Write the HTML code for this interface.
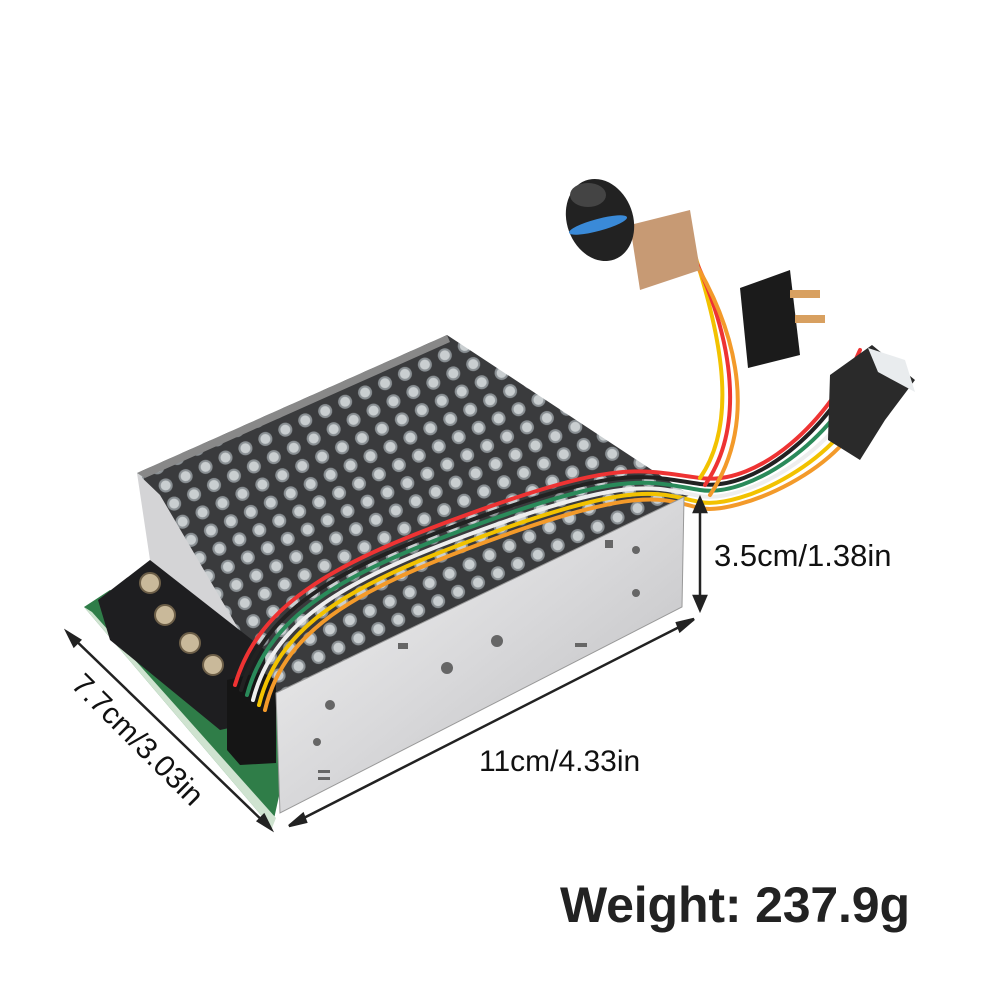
<!DOCTYPE html>
<html><head><meta charset="utf-8"><style>
html,body{margin:0;padding:0;background:#fff}
svg{display:block}
text{font-family:"Liberation Sans",Arial,sans-serif}
</style></head><body>
<svg width="1000" height="1000" viewBox="0 0 1000 1000" xmlns="http://www.w3.org/2000/svg">
<defs>
<pattern id="holes" width="22" height="20" patternUnits="userSpaceOnUse" patternTransform="rotate(-25)">
<rect width="22" height="20" fill="#3a3b3d"/>
<circle cx="11" cy="10" r="7" fill="#8a9094"/>
<circle cx="11" cy="10" r="5" fill="#c9ced0"/>
</pattern>
<linearGradient id="panel" x1="0" y1="0" x2="1" y2="1">
<stop offset="0" stop-color="#f4f4f4"/><stop offset="0.5" stop-color="#d8d8da"/><stop offset="1" stop-color="#b9b9bb"/>
</linearGradient>
</defs>
<rect width="1000" height="1000" fill="#fff"/>

<polygon points="84,607 110,590 300,700 272,828" fill="#2f7d48"/>
<polygon points="84,607 272,828 276,818 92,612" fill="#cfe3d0"/>
<polygon points="137,473 160,495 325,633 325,690 280,700 150,560" fill="#d4d4d6"/>
<polygon points="137,473 447,335 690,495 276,693 160,495" fill="url(#holes)"/>
<polygon points="137,473 447,335 450,342 145,478" fill="#888"/>
<polygon points="98,600 150,560 265,650 265,720 220,730 110,640" fill="#1e1e20"/>
<g fill="#c9b99a" stroke="#6d5f48" stroke-width="2">
<circle cx="150" cy="583" r="10"/><circle cx="165" cy="615" r="10"/><circle cx="190" cy="643" r="10"/><circle cx="213" cy="665" r="10"/>
</g>
<polygon points="227,680 262,672 276,680 276,763 240,765 227,750" fill="#151515"/>
<g fill="none" stroke-width="4" stroke-linecap="round">
<path d="M235,685 C260,600 340,560 480,510 S640,470 700,478 S830,420 860,350" stroke="#e33"/>
<path d="M241,690 C265,605 345,565 485,515 S645,476 700,484 S830,430 860,360" stroke="#222"/>
<path d="M247,695 C270,610 350,570 490,520 S650,482 700,490 S835,440 862,370" stroke="#2a8a5a"/>
<path d="M253,700 C275,615 355,575 495,525 S655,488 700,496 S840,450 864,380" stroke="#eee"/>
<path d="M259,705 C280,620 360,580 500,530 S660,494 700,502 S845,460 866,390" stroke="#f2c200"/>
<path d="M265,710 C285,625 365,585 505,535 S665,500 700,508 S850,470 868,400" stroke="#f39a2a"/>
<path d="M700,478 C740,420 720,330 690,240" stroke="#f2c200"/>
<path d="M705,485 C750,420 730,320 680,230" stroke="#e33"/>
<path d="M710,495 C760,420 740,320 670,225" stroke="#f39a2a"/>
</g>
<polygon points="276,693 684,497 682,607 280,813" fill="url(#panel)" stroke="#999"/>
<g fill="#666">
<circle cx="330" cy="705" r="5"/><circle cx="317" cy="742" r="4"/><circle cx="447" cy="668" r="6"/><circle cx="497" cy="641" r="6"/>
<circle cx="636" cy="550" r="4"/><circle cx="636" cy="593" r="4"/>
<rect x="398" y="643" width="10" height="6"/><rect x="575" y="643" width="12" height="4"/><rect x="605" y="540" width="8" height="8"/>
<rect x="318" y="770" width="12" height="3"/><rect x="318" y="777" width="12" height="3"/>
</g>
<polygon points="740,288 790,270 800,355 748,368" fill="#1b1b1b"/>
<rect x="790" y="290" width="30" height="8" fill="#d8a060"/><rect x="795" y="315" width="30" height="8" fill="#d8a060"/>
<polygon points="830,375 872,345 915,380 885,420 860,460 828,440" fill="#2a2a2a"/>
<polygon points="868,348 905,360 915,392 878,372" fill="#e9ecee"/>
<polygon points="630,225 690,210 700,270 640,290" fill="#c79a74"/>
<ellipse cx="600" cy="220" rx="33" ry="42" fill="#222" transform="rotate(-20 600 220)"/>
<ellipse cx="598" cy="225" rx="30" ry="6" fill="#3a8ad8" transform="rotate(-15 598 225)"/>
<ellipse cx="588" cy="195" rx="18" ry="12" fill="#444"/>

<g stroke="#222" stroke-width="2.5" fill="#222">
<line x1="700" y1="500" x2="700" y2="608"/>
<polygon points="694,512 700,498 706,512"/><polygon points="694,596 700,610 706,596"/>
<line x1="290" y1="825" x2="693" y2="620"/>
<polygon points="289,826 303,814 306,822"/><polygon points="694,619 680,631 677,623"/>
<line x1="68" y1="633" x2="270" y2="828"/>
<polygon points="67,632 80,640 74,646"/><polygon points="271,829 258,821 264,815"/>
</g>
<text x="714" y="566" font-size="31" fill="#111">3.5cm/1.38in</text>
<text x="479" y="771" font-size="30" fill="#111">11cm/4.33in</text>
<text x="0" y="0" font-size="30" fill="#111" transform="translate(70,686) rotate(45)">7.7cm/3.03in</text>
<text x="560" y="922" font-size="50" font-weight="bold" fill="#222" textLength="350">Weight: 237.9g</text>
</svg>
</body></html>
